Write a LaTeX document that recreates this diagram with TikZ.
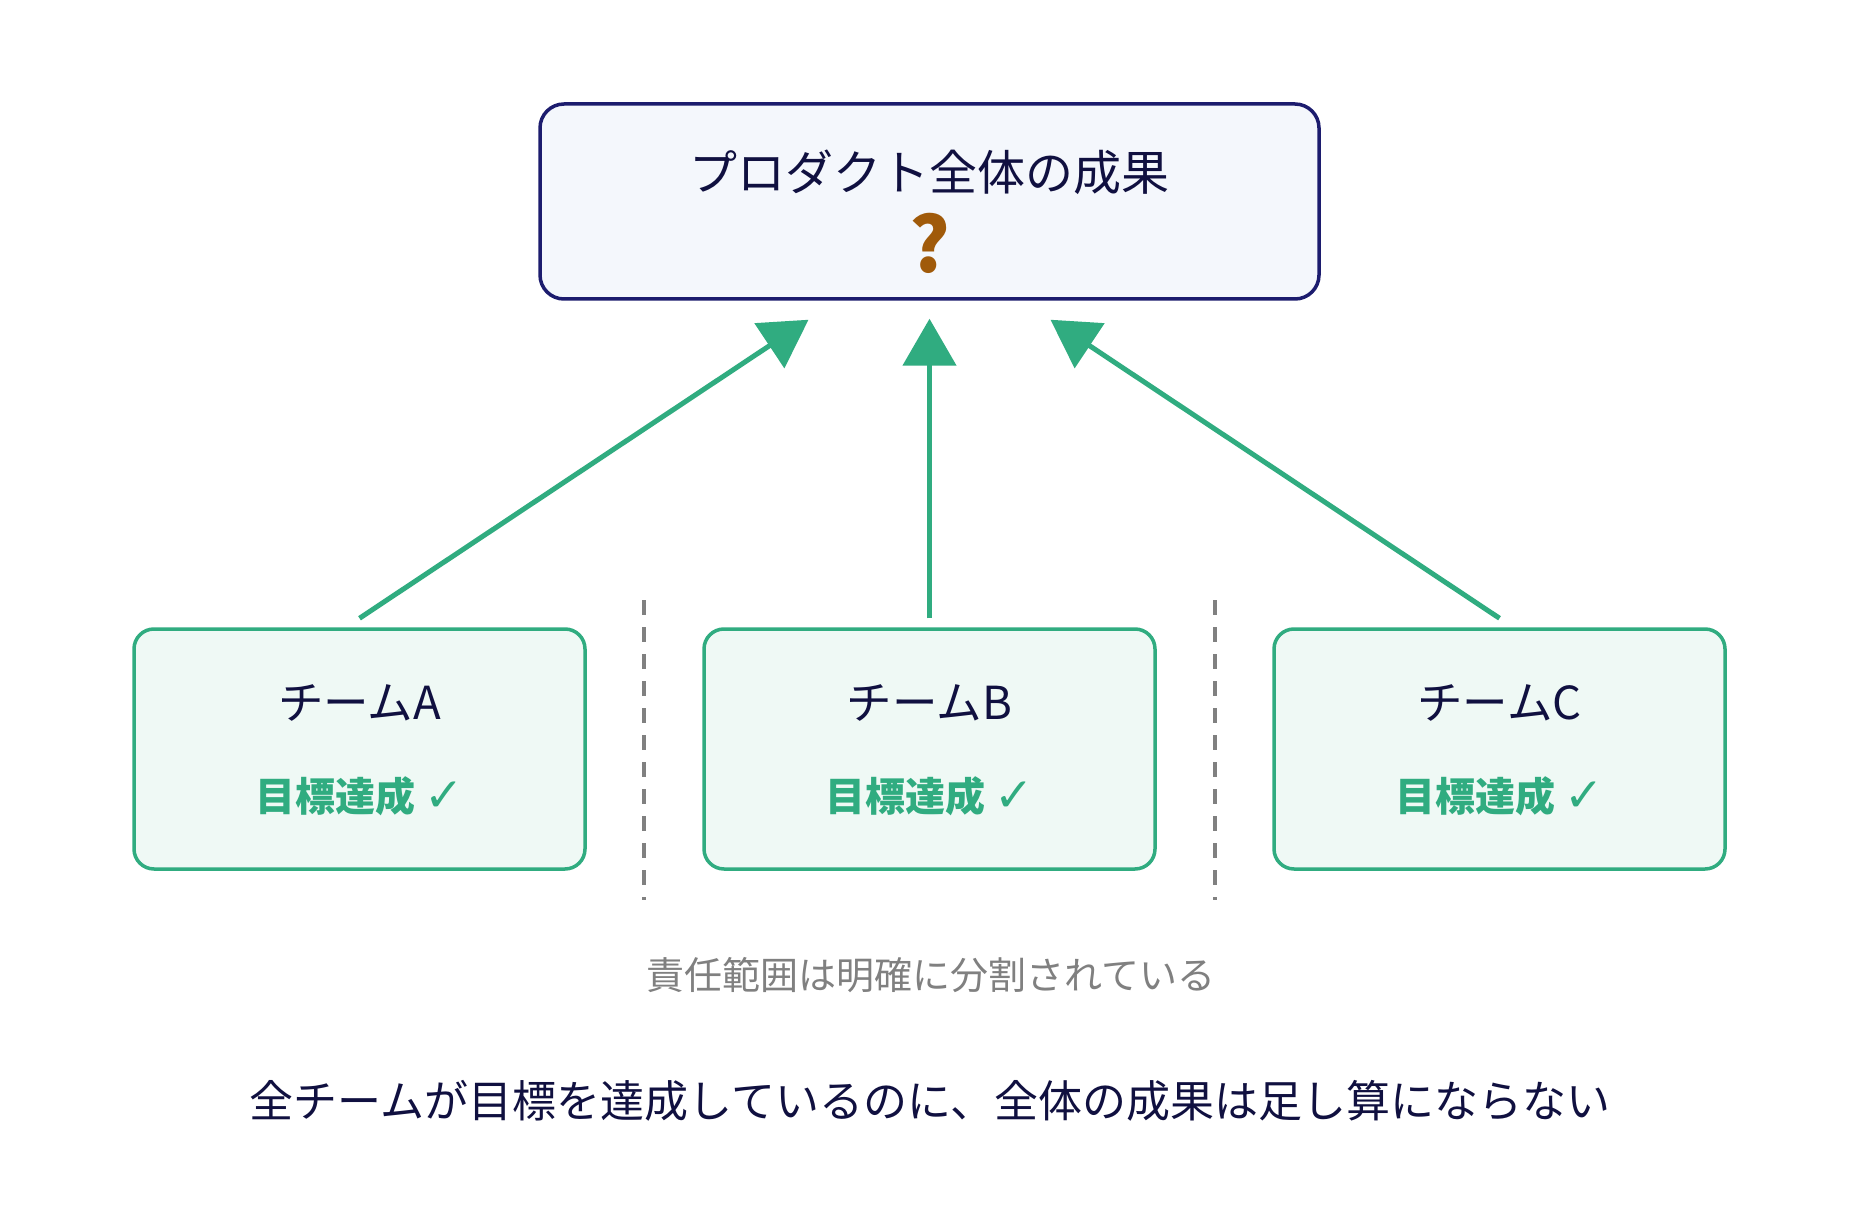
\documentclass[tikz,border=0pt]{standalone}
\usepackage{fontspec}
\setmainfont{Noto Sans CJK JP}
\newfontfamily\symfont{DejaVu Sans}
\usetikzlibrary{arrows.meta}
\definecolor{navy}{RGB}{28,28,110}
\definecolor{ink}{RGB}{16,16,64}
\definecolor{topfill}{RGB}{244,247,252}
\definecolor{grn}{RGB}{48,172,128}
\definecolor{grnfill}{RGB}{239,249,245}
\definecolor{brown}{RGB}{160,90,10}
\definecolor{gry}{RGB}{128,128,128}
\newcommand{\chk}{{\symfont\mdseries\fontsize{47}{50}\selectfont ✓}}
\tikzset{
  topbox/.style={draw=navy, fill=topfill, line width=3.5pt, rounded corners=24pt, minimum width=779pt, minimum height=195pt, inner sep=0pt},
  teambox/.style={draw=grn, fill=grnfill, line width=3.5pt, rounded corners=20pt, minimum width=451pt, minimum height=240pt, inner sep=0pt},
  teamname/.style={text=ink, font=\fontsize{45.5}{50}\selectfont, inner sep=0pt},
  goal/.style={text=grn, font=\fontsize{40}{46}\selectfont\bfseries, inner sep=0pt},
  flow/.style={draw=grn, line width=5pt, -{Triangle[length=47pt,width=53pt]}},
  divider/.style={draw=gry, line width=4.5pt, dash pattern=on 15pt off 12pt},
}
\begin{document}
\begin{tikzpicture}[x=1pt,y=-1pt]
\useasboundingbox[fill=white] (0,0) rectangle (1860,1230);
\node[topbox] (top) at (929.5,201.5) {};
\node[text=ink, font=\fontsize{48}{52}\selectfont, inner sep=0pt] (title) at (929.5,172) {プロダクト全体の成果};
\node[text=brown, font=\fontsize{76}{80}\selectfont\bfseries, inner sep=0pt] (q) at (929.5,243) {?};

\node[teambox] (A) at (359.5,749) {};
\node[teambox] (B) at (929.5,749) {};
\node[teambox] (C) at (1499.5,749) {};

\node[teamname] (nA) at (359.5,703) {チームA};
\node[teamname] (nB) at (929.5,703) {チームB};
\node[teamname] (nC) at (1499.5,703) {チームC};
\node[goal] (gA) at (359.5,796) {目標達成 \chk};
\node[goal] (gB) at (929.5,796) {目標達成 \chk};
\node[goal] (gC) at (1499.5,796) {目標達成 \chk};

\draw[flow] ([yshift=9pt]A.north) -- ([xshift=-121pt,yshift=-19pt]top.south);
\draw[flow] ([yshift=9pt]B.north) -- ([yshift=-18pt]top.south);
\draw[flow] ([yshift=9pt]C.north) -- ([xshift=121pt,yshift=-19pt]top.south);

\coordinate (d1t) at (644,600);
\coordinate (d1b) at (644,900);
\coordinate (d2t) at (1215,600);
\coordinate (d2b) at (1215,900);
\draw[divider] (d1t) -- (d1b);
\draw[divider] (d2t) -- (d2b);

\node[text=gry, font=\fontsize{38}{42}\selectfont, inner sep=0pt] (note) at (931,975) {責任範囲は明確に分割されている};
\node[text=ink, font=\fontsize{44}{48}\selectfont, inner sep=0pt] (summary) at (930,1101) {全チームが目標を達成しているのに、全体の成果は足し算にならない};
\end{tikzpicture}
\end{document}
